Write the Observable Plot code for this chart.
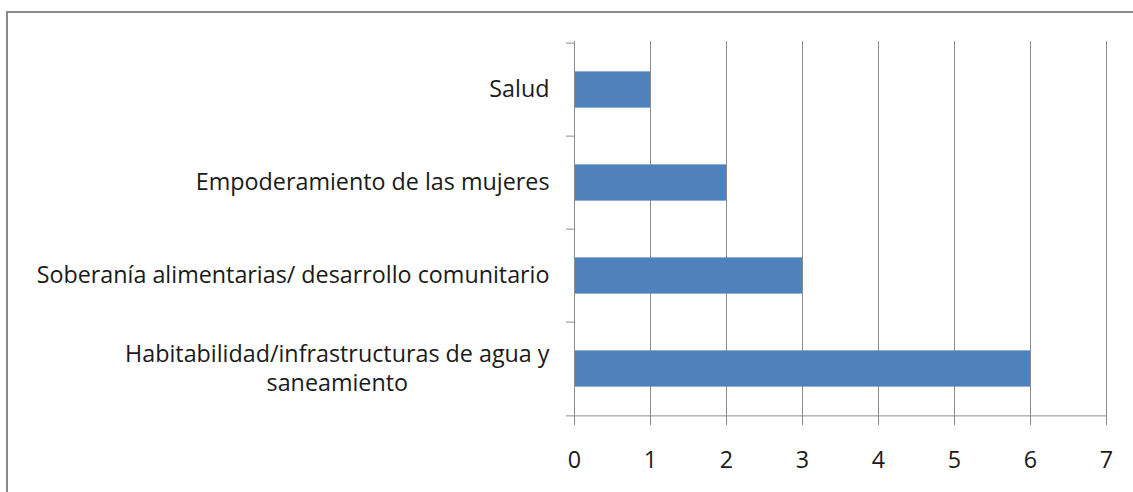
<!DOCTYPE html>
<html><head><meta charset="utf-8">
<script src="https://cdn.jsdelivr.net/npm/d3@7"></script>
<script src="https://cdn.jsdelivr.net/npm/@observablehq/plot@0.6"></script>
<style>
html,body{margin:0;padding:0;background:#fff;overflow:hidden;width:1133px;height:492px;}
#frame{position:absolute;left:6px;top:11px;width:1300px;height:700px;border:2px solid #8a8a8a;}
#chart{position:absolute;left:0;top:0;}
</style></head><body><div id="frame"></div><div id="chart"></div>
<script>
const categories = [
  "Salud",
  "Empoderamiento de las mujeres",
  "Soberanía alimentarias/ desarrollo comunitario",
  "Habitabilidad/infrastructuras de agua y\nsaneamiento"
];
const values = [1, 2, 3, 6];
const xTicks = [0, 1, 2, 3, 4, 5, 6, 7];

const data = categories.map((c, i) => ({category: c, value: values[i]}));
const W = 1133, H = 492, mt = 41, mb = 76, ml = 574, mr = 27;
const band = (H - mt - mb) / categories.length;
const gridColor = "#8c8c8c";
const textColor = "#1a1a1a";
const barInset = (band - 37) / 2;

const chart = Plot.plot({
  width: W, height: H,
  marginTop: mt, marginBottom: mb, marginLeft: ml, marginRight: mr,
  style: {fontFamily: "'Open Sans', sans-serif", fontSize: "23.3px", color: textColor, background: "transparent"},
  x: {domain: [0, 7], label: null},
  y: {domain: categories, padding: 0, label: null},
  marks: [
    Plot.ruleX(xTicks.filter(t => t > 0), {stroke: gridColor, strokeWidth: 1}),
    Plot.barX(data, {x: "value", y: "category", fill: "#4F81BD", insetTop: barInset, insetBottom: barInset}),
    Plot.ruleX([0], {stroke: gridColor, strokeWidth: 1}),
    Plot.ruleY([categories[categories.length - 1]], {x1: 0, x2: 7, dy: band / 2, stroke: gridColor}),
    Plot.axisY({tickSize: 8, tickFormat: () => "", stroke: gridColor, strokeOpacity: 1, dy: -band / 2, label: null}),
    Plot.axisY({ticks: [categories[categories.length - 1]], tickSize: 8, tickFormat: () => "", stroke: gridColor, strokeOpacity: 1, dy: band / 2, label: null}),
    Plot.axisY({tickSize: 0, tickPadding: 25, lineHeight: 1.25, dy: -2, fill: textColor, label: null}),
    Plot.axisX({ticks: xTicks, tickFormat: "d", tickSize: 9, tickPadding: 26, stroke: gridColor, strokeOpacity: 1, fill: textColor, label: null})
  ]
});
document.getElementById("chart").appendChild(chart);

// centre the lines of a wrapped category label on each other (right-aligned block)
chart.querySelectorAll("text").forEach(t => {
  const spans = t.querySelectorAll("tspan");
  if (spans.length > 1) {
    let maxW = 0;
    spans.forEach(s => { maxW = Math.max(maxW, s.getComputedTextLength()); });
    spans.forEach(s => { s.setAttribute("text-anchor", "middle"); s.setAttribute("x", -maxW / 2); });
  }
});
</script>
</body></html>
